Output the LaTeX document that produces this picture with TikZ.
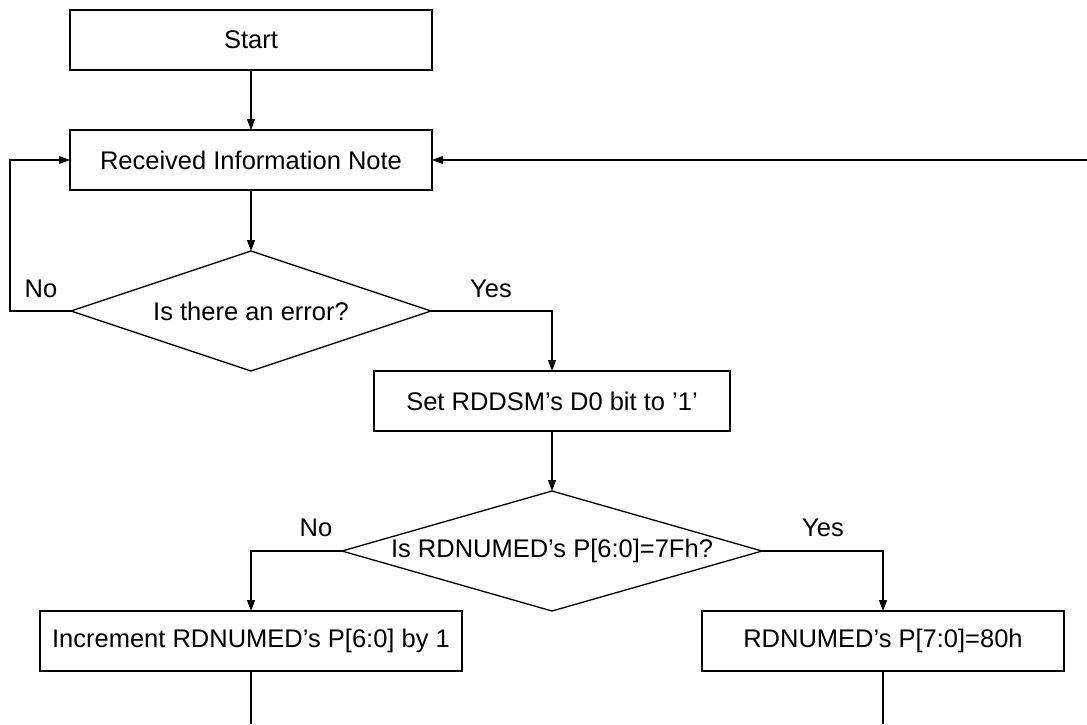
\documentclass[tikz,border=0pt]{standalone}
\usepackage{fontspec}
\setmainfont{Liberation Sans}
\usetikzlibrary{shapes.geometric,arrows.meta}
\begin{document}
\begin{tikzpicture}[x=1pt,y=-1pt,
  every node/.style={font=\fontsize{25.5}{30}\selectfont},
  procbox/.style={draw, line width=1.3pt, minimum height=60pt, inner sep=0pt, outer sep=0pt},
  decis/.style={draw, line width=1.3pt, shape=diamond, inner sep=0pt, outer sep=0pt},
  conn/.style={line width=1.1pt},
  arr/.style={conn, -{Triangle[length=11pt,width=8pt]}},
  lbl/.style={inner sep=0pt}]
\useasboundingbox (0,0) rectangle (1087,724);
\node[procbox, minimum width=362pt] (start) at (251,40) {Start};
\node[procbox, minimum width=362pt] (recv) at (251,160) {Received Information Note};
\node[decis, minimum width=360pt, minimum height=120pt] (d1) at (251,311) {};
\node at (d1) {Is there an error?};
\node[procbox, minimum width=356pt] (setd0) at (552,401) {Set RDDSM’s D0 bit to ’1’};
\node[decis, minimum width=420pt, minimum height=120pt] (d2) at (552,551) {};
\node at (d2) {Is RDNUMED’s P[6:0]=7Fh?};
\node[procbox, minimum width=422pt] (inc) at (251,641) {Increment RDNUMED’s P[6:0] by 1};
\node[procbox, minimum width=362pt] (set80) at (883,641) {RDNUMED’s P[7:0]=80h};
\coordinate (loopL) at (10,160);
\coordinate (rightEnd) at (1087,160);
\coordinate (incEnd) at (251,724);
\coordinate (set80End) at (883,724);
\draw[arr] (start.south) -- (recv.north);
\draw[arr] (recv.south) -- (d1.north);
\draw[arr] (d1.west) -| (loopL) -- (recv.west);
\draw[arr] (rightEnd) -- (recv.east);
\draw[arr] (d1.east) -| (setd0.north);
\draw[arr] (setd0.south) -- (d2.north);
\draw[arr] (d2.west) -| (inc.north);
\draw[arr] (d2.east) -| (set80.north);
\draw[conn] (inc.south) -- (incEnd);
\draw[conn] (set80.south) -- (set80End);
\node[lbl] (no1) at (41,289) {No};
\node[lbl] (yes1) at (491,289) {Yes};
\node[lbl] (no2) at (316,528) {No};
\node[lbl] (yes2) at (823,528) {Yes};
\end{tikzpicture}
\end{document}
